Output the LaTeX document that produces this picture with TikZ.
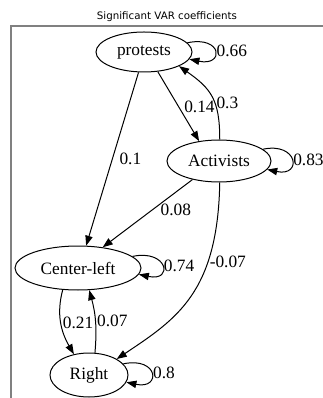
\documentclass[tikz,border=0pt]{standalone}
\usepackage{fontspec}
\usepackage{xcolor}
\setmainfont{Liberation Serif}
\newfontfamily\titlefont{DejaVu Sans}
\usetikzlibrary{arrows.meta,shapes.geometric}
\definecolor{FrameGray}{RGB}{128,128,128}

\begin{document}
\begin{tikzpicture}[x=0.75pt, y=0.75pt,
    var/.style={draw, ellipse, line width=0.75pt, inner sep=0pt,
      font=\fontsize{13}{15}\selectfont},
    edge/.style={line width=0.75pt, -{Triangle[length=7.5pt, width=5.5pt]}},
    selfloop/.style={edge, out=12, in=-12, distance=27pt},
    coef/.style={font=\fontsize{13}{15}\selectfont, inner sep=1pt}]

  \useasboundingbox (0,0) rectangle (323,-398);

  % --- Frame and title ---
  \draw[FrameGray, line width=1.1pt] (11,-398) -- (11,-26) -- (323,-26);
  \node[font=\titlefont\fontsize{7.7}{9}\selectfont] (title) at (167,-17)
      {Significant VAR coefficients};

  % --- Variables (pixel coords, y downwards) ---
  \node[var, minimum width=72pt, minimum height=30pt]   (protests)   at (144,-52)  {protests};
  \node[var, minimum width=78pt, minimum height=31.5pt] (activists)  at (219,-161) {Activists};
  \node[var, minimum width=94.5pt, minimum height=33pt] (centerleft) at (78,-268)  {Center-left};
  \node[var, minimum width=58.5pt, minimum height=33pt] (rightwing)  at (89,-375)  {Right};

  % --- Self loops ---
  \draw[selfloop] (protests.12)   to node[coef, right] {0.66} (protests.-9);
  \draw[selfloop] (activists.15)  to node[coef, right] {0.83} (activists.-10);
  \draw[selfloop] (centerleft.12) to node[coef, right] {0.74} (centerleft.-6);
  \draw[selfloop] (rightwing.18)  to node[coef, right] {0.8}  (rightwing.-11);

  % --- Cross effects ---
  \draw[edge] (protests.-55) -- node[coef, right=3pt, pos=0.5] {0.14} (activists.135);
  \draw[edge] (activists.88) to[out=90, in=-35, looseness=1.2]
      node[coef, right, pos=0.4] {0.3} (protests.-22);
  \draw[edge] (protests.-105) -- node[coef, right=4pt, pos=0.5] {0.1} (centerleft.70);
  \draw[edge] (activists.-145) -- node[coef, right=5pt, pos=0.45] {0.08} (centerleft.40);
  \draw[edge] (activists.-88) .. controls +(-2,-110) and +(60,40) ..
      node[coef, right, pos=0.3] {-0.07} (rightwing.30);
  \draw[edge] (centerleft.-125) to[out=-105, in=120]
      node[coef, right, pos=0.5] {0.21} (rightwing.126);
  \draw[edge] (rightwing.75) to[out=85, in=-75]
      node[coef, right, pos=0.5] {0.07} (centerleft.-63);

\end{tikzpicture}
\end{document}
